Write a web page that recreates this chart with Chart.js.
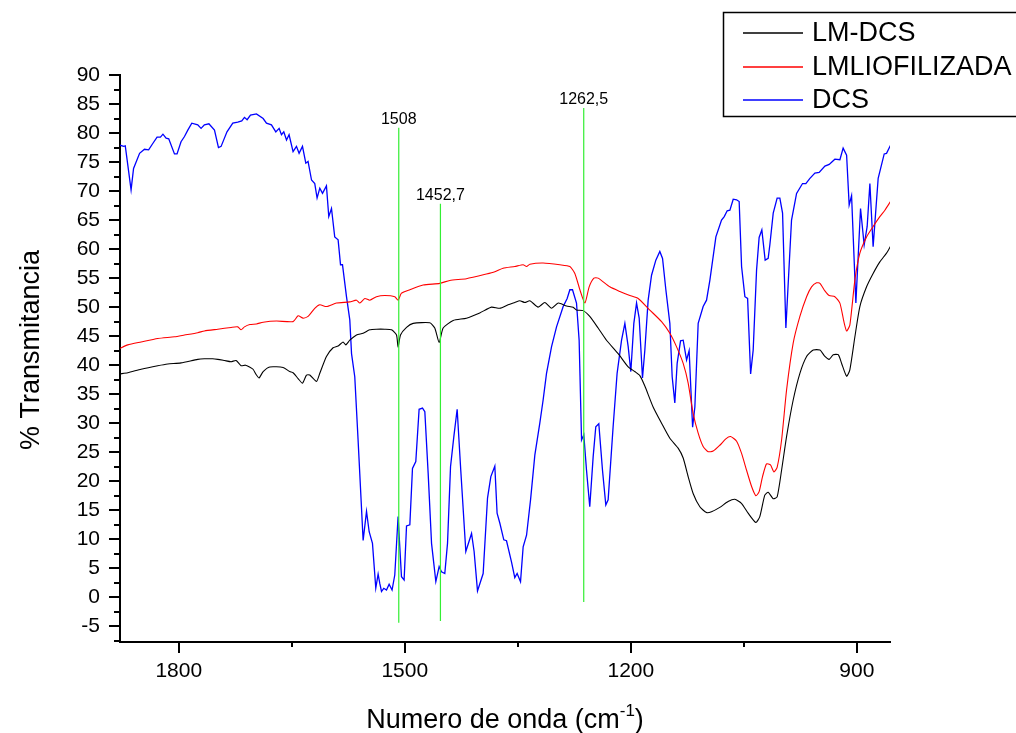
<!DOCTYPE html>
<html>
<head>
<meta charset="utf-8">
<title>Espectro FTIR</title>
<script src="https://cdn.jsdelivr.net/npm/chart.js@4.4.0/dist/chart.umd.min.js"></script>
<style>
  body { margin: 0; background: #fff; }
  #contenedor { width: 1016px; height: 733px; }
</style>
</head>
<body>
<div id="contenedor"><canvas id="grafico" width="1016" height="733"></canvas></div>
<script>
// Número de onda (cm-1) y % transmitancia de cada espectro
const lmDcsOnda = [1878, 1867.7, 1850, 1827.9, 1814.6, 1797, 1774.8, 1766, 1755, 1748.2, 1739.3, 1730.6, 1723.9, 1717.3, 1711.5, 1706.1, 1701.4, 1696.9, 1693.4, 1688, 1679.2, 1661.5, 1652.7, 1648.3, 1641.6, 1635.8, 1630.5, 1626.1, 1617.2, 1612.8, 1604, 1595.2, 1588.5, 1581.9, 1578.3, 1573, 1564.1, 1555.3, 1546.5, 1537.6, 1526.5, 1517.6, 1511, 1508.9, 1505.7, 1497.7, 1488.9, 1466.8, 1460.2, 1454.4, 1449.1, 1435.8, 1418.2, 1400.5, 1385, 1373.9, 1362.9, 1354, 1347.3, 1340.7, 1334, 1323, 1314.1, 1305.2, 1296.4, 1285.3, 1276.5, 1272.1, 1263.2, 1254.5, 1243.4, 1232.3, 1216.8, 1203.5, 1194.7, 1188, 1181.4, 1170.4, 1159.2, 1148.2, 1137.2, 1130.5, 1123.9, 1117.3, 1108.4, 1099.5, 1092.9, 1081.9, 1070.9, 1062, 1053.2, 1044.3, 1034.1, 1028.8, 1022.2, 1017.7, 1011.1, 1005.8, 999.9, 993.3, 984.5, 975.6, 966.7, 957.9, 949, 942.4, 936.7, 931.3, 924.7, 920.2, 913.6, 909.3, 902.6, 896, 887.1, 878.4, 869.5, 860.6, 855.3];
const lmDcsTrans = [38.5, 38.7, 39.3, 39.9, 40.2, 40.4, 41.0, 41.1, 41.1, 41.0, 40.8, 40.6, 40.8, 39.9, 40.0, 39.7, 39.3, 38.3, 37.8, 38.9, 39.7, 39.6, 38.9, 38.7, 37.7, 36.9, 38.3, 38.3, 37.2, 38.6, 41.5, 43.0, 43.3, 44.0, 43.5, 44.3, 45.2, 45.5, 46.1, 46.2, 46.2, 46.1, 45.2, 43.1, 45.2, 46.5, 47.2, 47.3, 46.4, 43.9, 46.4, 47.7, 48.1, 49.0, 50.0, 49.8, 50.4, 50.8, 51.1, 50.8, 51.1, 50.0, 50.8, 49.8, 50.7, 50.2, 50.0, 49.5, 49.4, 48.4, 46.4, 44.3, 42.0, 39.7, 38.9, 38.2, 36.4, 32.8, 30.0, 27.4, 25.7, 24.0, 20.8, 17.9, 15.6, 14.6, 14.75, 15.5, 16.5, 16.9, 16.2, 14.5, 12.9, 13.9, 17.6, 18.1, 17.0, 17.3, 21.9, 27.7, 34.0, 38.6, 41.5, 42.6, 42.6, 41.5, 41.0, 41.8, 41.8, 40.3, 38.1, 39.2, 44.9, 50.1, 53.5, 55.8, 57.8, 59.3, 60.5];

const lmLiofOnda = [1878, 1867.7, 1850, 1827.9, 1805.7, 1792.4, 1774.8, 1766, 1748.2, 1730.6, 1721.7, 1717.3, 1712.8, 1705.7, 1696.9, 1688, 1670.3, 1648.3, 1641.6, 1635, 1628.4, 1619.5, 1612.8, 1604, 1590.7, 1573, 1564.1, 1559.7, 1553, 1546.5, 1537.6, 1526.5, 1513.3, 1508.9, 1504.4, 1493.3, 1475.7, 1453.5, 1440.3, 1418.2, 1391.7, 1380.5, 1369.5, 1354, 1342.9, 1338.4, 1334, 1316.4, 1294.2, 1280.9, 1274.3, 1267.6, 1261, 1255.3, 1249, 1243.4, 1227.9, 1214.6, 1201.3, 1190.3, 1174.8, 1159.2, 1148.2, 1139.4, 1130.5, 1123.9, 1117.3, 1110.6, 1104, 1097.3, 1090.7, 1081.9, 1073.9, 1067.6, 1059.6, 1053, 1046.4, 1039.7, 1034, 1029.7, 1025.2, 1019.9, 1014.6, 1010.1, 1005.8, 999.9, 993.3, 984.5, 975.6, 966.7, 960.1, 953.5, 949, 942.4, 936.7, 929.2, 922.5, 917.2, 913.6, 909.3, 902.6, 896, 887.1, 878.4, 869.5, 862.8, 855.3];
const lmLiofTrans = [42.9, 43.5, 44.0, 44.6, 44.9, 45.2, 45.6, 45.9, 46.2, 46.5, 46.6, 46.1, 46.6, 47.0, 47.1, 47.4, 47.6, 47.5, 48.5, 48.1, 48.4, 49.8, 50.4, 50.1, 50.7, 50.9, 51.2, 50.7, 51.5, 51.2, 51.8, 52.0, 51.8, 51.2, 52.4, 53.0, 53.8, 54.1, 54.6, 54.9, 55.7, 56.1, 56.7, 57.0, 57.3, 57.0, 57.4, 57.6, 57.3, 57.0, 55.8, 53.0, 50.7, 53.5, 55.0, 55.0, 53.5, 52.7, 52.0, 51.5, 49.5, 47.5, 45.5, 43.2, 40.3, 36.9, 31.7, 28.3, 26.0, 25.1, 25.2, 26.2, 27.3, 27.7, 26.9, 24.8, 21.9, 19.1, 17.5, 18.2, 20.8, 23.0, 22.8, 21.6, 22.4, 27.1, 35.7, 43.8, 48.4, 51.8, 53.5, 54.2, 54.1, 52.8, 52.0, 51.8, 50.7, 47.5, 45.9, 46.9, 54.7, 59.3, 62.1, 63.9, 65.6, 66.7, 68.2];

const dcsOnda = [1878, 1873, 1871, 1863.3, 1860, 1852, 1845.5, 1840, 1834.5, 1828.8, 1824.3, 1821, 1816.8, 1813.3, 1805.7, 1802.3, 1797, 1792.4, 1788, 1782.7, 1774.8, 1770.4, 1766, 1760, 1752.6, 1747.3, 1743.8, 1736, 1728.3, 1721.7, 1716.4, 1712.8, 1709.3, 1704.8, 1696.9, 1688, 1683.6, 1677, 1671.2, 1666.8, 1663.7, 1660.6, 1657, 1653.6, 1648.3, 1643.8, 1640.3, 1635.8, 1631.4, 1628.4, 1623.8, 1619.5, 1616.4, 1612.8, 1609.2, 1604, 1600.9, 1597.3, 1593, 1588.5, 1585.3, 1582.7, 1577.4, 1573, 1570.7, 1566.4, 1562, 1555.3, 1550.8, 1547.3, 1542.9, 1538.5, 1535.4, 1533.2, 1530.9, 1527.9, 1524.3, 1520.8, 1516.9, 1513.3, 1508.9, 1504.4, 1500.9, 1497.7, 1493.3, 1489.8, 1485.4, 1481, 1476.5, 1473.4, 1469, 1464.5, 1458.8, 1454.4, 1451.3, 1446.9, 1443.3, 1439.3, 1434.9, 1430.5, 1426, 1419, 1411.4, 1408, 1403.5, 1396, 1390.2, 1385.8, 1380.5, 1377.5, 1373.9, 1368.6, 1365, 1358.4, 1354, 1350.9, 1346.4, 1342.9, 1338.4, 1333.1, 1327.4, 1320.8, 1316.4, 1311.9, 1305.2, 1298.6, 1289.8, 1284.5, 1280.9, 1277.4, 1272.1, 1268.6, 1265.4, 1262.4, 1258.8, 1254.5, 1250, 1246.5, 1242.5, 1237.6, 1233.2, 1230.1, 1223.5, 1218.2, 1212.3, 1207.9, 1203.5, 1200, 1196, 1192.4, 1188.9, 1184.5, 1181.4, 1177, 1172.5, 1166.8, 1161.5, 1157.9, 1153.5, 1148.2, 1145.1, 1141.6, 1138.5, 1134, 1130.5, 1126, 1122.6, 1118, 1115, 1110.6, 1104, 1099.5, 1095, 1087.1, 1079.6, 1076, 1072.1, 1068.5, 1064.1, 1059.6, 1056.2, 1053, 1048.6, 1045, 1041, 1037.6, 1033.1, 1029.7, 1026.1, 1021.7, 1017.7, 1015.5, 1011, 1005.8, 1002.2, 998.6, 994.2, 986.7, 980, 972.1, 967.7, 962.3, 955.7, 950, 942.4, 936.7, 929.2, 922.5, 918.2, 913.6, 910.2, 907, 901.3, 895.1, 890.3, 886.3, 882.7, 878.4, 871.7, 863.7, 860.6, 855.3];
const dcsTrans = [77.9, 77.7, 77.8, 70.2, 73.9, 76.5, 77.2, 77.1, 78.2, 79.3, 79.3, 79.8, 79.1, 79.0, 76.4, 76.4, 78.5, 79.4, 80.5, 81.7, 81.4, 80.8, 81.4, 81.6, 80.5, 77.5, 77.7, 80.2, 81.7, 81.9, 82.1, 82.7, 82.3, 83.1, 83.3, 82.5, 81.7, 81.4, 80.2, 80.8, 79.7, 80.2, 78.8, 79.7, 76.8, 77.7, 76.5, 77.7, 74.8, 75.1, 71.9, 71.3, 68.8, 70.5, 69.6, 70.9, 65.6, 67.0, 62.1, 61.6, 57.3, 57.3, 51.8, 47.8, 42.0, 38.0, 27.1, 9.8, 14.8, 11.3, 9.3, 1.6, 4.0, 2.4, 1.0, 1.55, 1.26, 2.24, 1.26, 3.84, 13.9, 3.55, 2.98, 12.3, 12.5, 22.2, 23.4, 32.4, 32.6, 32.0, 21.4, 9.3, 2.7, 5.3, 4.4, 4.1, 9.3, 22.5, 27.7, 32.4, 22.5, 7.9, 11.0, 7.9, 1.1, 4.1, 17.1, 20.8, 22.6, 14.5, 12.8, 9.9, 9.75, 6.1, 3.4, 4.1, 2.7, 8.7, 10.7, 16.8, 24.5, 30.0, 34.0, 38.6, 43.2, 46.6, 50.1, 51.5, 53.0, 53.0, 50.7, 44.3, 27.1, 28.0, 21.9, 15.6, 24.2, 29.4, 29.9, 21.9, 15.9, 16.8, 29.4, 38.6, 44.3, 47.2, 43.2, 38.9, 47.2, 50.7, 48.1, 37.8, 42.6, 51.2, 55.5, 58.1, 59.6, 58.4, 53.0, 47.2, 38.0, 33.5, 40.3, 44.2, 44.3, 40.9, 42.5, 29.3, 32.8, 47.2, 50.1, 51.2, 54.7, 62.1, 65.0, 65.6, 66.6, 66.7, 68.6, 68.5, 68.2, 57.0, 51.8, 51.5, 38.5, 42.6, 56.4, 62.0, 63.3, 58.1, 58.4, 60.7, 66.2, 68.8, 68.8, 66.2, 46.4, 65.0, 69.6, 71.3, 71.3, 72.2, 73.1, 73.2, 74.3, 74.6, 75.5, 75.4, 77.4, 76.2, 67.6, 69.2, 50.7, 67.0, 60.7, 63.9, 71.3, 60.4, 72.2, 76.4, 76.5, 77.9];

// Bandas señaladas con línea vertical verde
const bandasOnda = [1508, 1452.7, 1262.5];
const bandasTexto = ['1508', '1452,7', '1262,5'];
const bandasArriba = [80.9, 67.8, 84.3];
const bandasAbajo = [-4.4, -4.1, -0.8];

// Marcas de los ejes
const ticksX = [1800, 1500, 1200, 900];
const ticksXMenores = [1650, 1350, 1050];
const ticksY = [-5, 0, 5, 10, 15, 20, 25, 30, 35, 40, 45, 50, 55, 60, 65, 70, 75, 80, 85, 90];
const ticksYMenores = [-7.5, -2.5, 2.5, 7.5, 12.5, 17.5, 22.5, 27.5, 32.5, 37.5, 42.5, 47.5, 52.5, 57.5, 62.5, 67.5, 72.5, 77.5, 82.5, 87.5];

const fuente = "'Liberation Sans', Arial, sans-serif";

function puntos(ondas, valores) {
    return ondas.map((o, i) => ({ x: o, y: valores[i] }));
}

const series = [
    { label: 'LM-DCS', data: puntos(lmDcsOnda, lmDcsTrans), borderColor: '#000000', borderWidth: 1.1, tension: 0.2 },
    { label: 'LMLIOFILIZADA', data: puntos(lmLiofOnda, lmLiofTrans), borderColor: '#ff0000', borderWidth: 1.1, tension: 0.2 },
    { label: 'DCS', data: puntos(dcsOnda, dcsTrans), borderColor: '#0000ff', borderWidth: 1.3, tension: 0 }
];

const lineasBandas = bandasOnda.map((b, i) => ({
    label: bandasTexto[i],
    data: [{ x: b, y: bandasArriba[i] }, { x: b, y: bandasAbajo[i] }],
    borderColor: '#33ee33',
    borderWidth: 1.2,
    esBanda: true
}));

const fondoBlanco = {
    id: 'fondoBlanco',
    beforeDraw(chart) {
        const ctx = chart.ctx;
        ctx.save();
        ctx.fillStyle = '#ffffff';
        ctx.fillRect(0, 0, chart.width, chart.height);
        ctx.restore();
    }
};

const decoraciones = {
    id: 'decoraciones',
    afterDraw(chart) {
        const ctx = chart.ctx;
        const sx = chart.scales.x, sy = chart.scales.y;
        const area = chart.chartArea;
        ctx.save();

        // marcas mayores y menores de ambos ejes
        ctx.strokeStyle = '#000';
        ctx.lineWidth = 2;
        ctx.beginPath();
        ticksX.forEach(v => {
            const px = Math.round(sx.getPixelForValue(v));
            ctx.moveTo(px, area.bottom); ctx.lineTo(px, area.bottom + 11);
        });
        ticksXMenores.forEach(v => {
            const px = Math.round(sx.getPixelForValue(v));
            ctx.moveTo(px, area.bottom); ctx.lineTo(px, area.bottom + 5);
        });
        ticksY.forEach(v => {
            const py = Math.round(sy.getPixelForValue(v));
            ctx.moveTo(area.left, py); ctx.lineTo(area.left - 11, py);
        });
        ticksYMenores.forEach(v => {
            const py = Math.round(sy.getPixelForValue(v));
            ctx.moveTo(area.left, py); ctx.lineTo(area.left - 6, py);
        });
        ctx.stroke();

        // etiquetas de las bandas
        ctx.fillStyle = '#000';
        ctx.font = '16px ' + fuente;
        ctx.textAlign = 'center';
        ctx.textBaseline = 'alphabetic';
        bandasOnda.forEach((b, i) => {
            ctx.fillText(bandasTexto[i], sx.getPixelForValue(b), sy.getPixelForValue(bandasArriba[i]) - 4);
        });

        // título eje X con superíndice
        const t1 = 'Numero de onda (cm', sup = '-1', t3 = ')';
        ctx.font = '27px ' + fuente;
        const w1 = ctx.measureText(t1).width, w3 = ctx.measureText(t3).width;
        ctx.font = '17px ' + fuente;
        const w2 = ctx.measureText(sup).width;
        let x0 = (area.left + area.right) / 2 - (w1 + w2 + w3) / 2;
        const base = 728;
        ctx.textAlign = 'left';
        ctx.font = '27px ' + fuente;
        ctx.fillText(t1, x0, base);
        ctx.font = '17px ' + fuente;
        ctx.fillText(sup, x0 + w1, base - 12);
        ctx.font = '27px ' + fuente;
        ctx.fillText(t3, x0 + w1 + w2, base);

        // título eje Y
        ctx.save();
        ctx.translate(39, 350);
        ctx.rotate(-Math.PI / 2);
        ctx.textAlign = 'center';
        ctx.fillText('% Transmitancia', 0, 0);
        ctx.restore();

        // leyenda
        ctx.lineWidth = 1.5;
        ctx.strokeStyle = '#000';
        ctx.strokeRect(723.5, 12.5, 300, 104);
        ctx.font = '27px ' + fuente;
        ctx.textAlign = 'left';
        ctx.textBaseline = 'middle';
        const filas = [33, 67, 100];
        series.forEach((s, i) => {
            ctx.strokeStyle = s.borderColor;
            ctx.lineWidth = 1.3;
            ctx.beginPath();
            ctx.moveTo(743, filas[i]); ctx.lineTo(803, filas[i]);
            ctx.stroke();
            ctx.fillStyle = '#000';
            ctx.fillText(s.label, 812, filas[i] + 1);
        });
        ctx.restore();
    }
};

const ctx = document.getElementById('grafico').getContext('2d');
new Chart(ctx, {
    type: 'line',
    data: { datasets: lineasBandas.concat(series) },
    options: {
        responsive: false,
        animation: false,
        parsing: true,
        elements: { point: { radius: 0 } },
        layout: { padding: { left: 0, right: 126, top: 75, bottom: 0 } },
        plugins: { legend: { display: false }, tooltip: { enabled: false } },
        scales: {
            x: {
                type: 'linear',
                reverse: true,
                min: 856,
                max: 1878,
                afterBuildTicks: s => { s.ticks = ticksX.map(v => ({ value: v })); },
                afterFit: s => { s.height = 91; },
                grid: { display: false, drawTicks: false },
                border: { display: true, color: '#000', width: 2 },
                ticks: {
                    color: '#000',
                    padding: 17,
                    maxRotation: 0,
                    font: { family: fuente, size: 21 },
                    callback: v => String(v)
                }
            },
            y: {
                type: 'linear',
                min: -7.7,
                max: 90,
                afterBuildTicks: s => { s.ticks = ticksY.map(v => ({ value: v })); },
                afterFit: s => { s.width = 120; },
                grid: { display: false, drawTicks: false },
                border: { display: true, color: '#000', width: 2 },
                ticks: {
                    color: '#000',
                    padding: 20,
                    font: { family: fuente, size: 21 },
                    callback: v => String(v)
                }
            }
        }
    },
    plugins: [fondoBlanco, decoraciones]
});
</script>
</body>
</html>
